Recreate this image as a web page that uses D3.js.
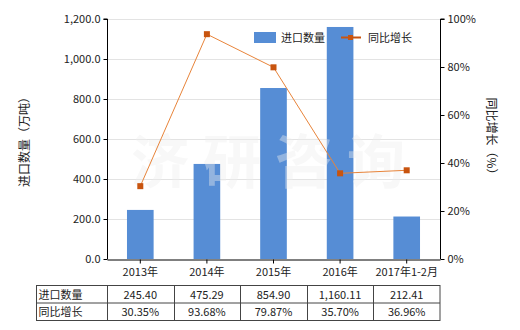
<!DOCTYPE html>
<html>
<head>
<meta charset="utf-8">
<script src="https://cdn.jsdelivr.net/npm/d3@7"></script>
<style>
  body { margin: 0; background: #fff; }
  text { font-family: "Noto Sans CJK SC", "DejaVu Sans", sans-serif; }
</style>
</head>
<body>
<div id="chart"></div>
<script>
// Data
const categories = ["2013年", "2014年", "2015年", "2016年", "2017年1-2月"];
const importQty = [245.40, 475.29, 854.90, 1160.11, 212.41];
const growth = [30.35, 93.68, 79.87, 35.70, 36.96];
const qtyLabels = ["245.40", "475.29", "854.90", "1,160.11", "212.41"];
const growthLabels = ["30.35%", "93.68%", "79.87%", "35.70%", "36.96%"];
const leftTicks = [0, 200, 400, 600, 800, 1000, 1200];
const rightTicks = [0, 20, 40, 60, 80, 100];

// Dimensions
const dimensions = { width: 520, height: 330, left: 107, right: 440, top: 19, bottom: 259 };

const svg = d3.select("#chart").append("svg")
  .attr("width", dimensions.width)
  .attr("height", dimensions.height);

// Scales
const xScale = d3.scaleBand().domain(categories)
  .range([dimensions.left, dimensions.right]).paddingInner(0.6).paddingOuter(0.3);
const xCenter = (c) => xScale(c) + xScale.bandwidth() / 2;
const step = xScale.step();
const yLeft = d3.scaleLinear().domain([0, 1200]).range([dimensions.bottom, dimensions.top]);
const yRight = d3.scaleLinear().domain([0, 100]).range([dimensions.bottom, dimensions.top]);

// Gridlines
svg.append("g").selectAll("line").data(leftTicks.slice(1)).join("line")
  .attr("x1", dimensions.left).attr("x2", dimensions.right)
  .attr("y1", (d) => yLeft(d) + 0.5).attr("y2", (d) => yLeft(d) + 0.5)
  .attr("stroke", "#e3e3e3");

// Bars
svg.append("g").selectAll("rect").data(importQty).join("rect")
  .attr("x", (d, i) => xScale(categories[i]))
  .attr("y", (d) => yLeft(d))
  .attr("width", xScale.bandwidth())
  .attr("height", (d) => yLeft(0) - yLeft(d))
  .attr("fill", "#568dd5");

// Watermark (over bars, lightens them)
svg.append("text").attr("x", 275).attr("y", 183).attr("text-anchor", "middle")
  .attr("font-size", 58).attr("font-weight", "bold").attr("fill", "#eeeeee")
  .attr("opacity", 0.4).attr("letter-spacing", 14).text("济研咨询");

// Line
const line = d3.line().x((d, i) => xCenter(categories[i])).y((d) => yRight(d));
svg.append("path").datum(growth).attr("d", line)
  .attr("fill", "none").attr("stroke", "#e8843a").attr("stroke-width", 1);
svg.append("g").selectAll("rect").data(growth).join("rect")
  .attr("x", (d, i) => xCenter(categories[i]) - 3)
  .attr("y", (d) => yRight(d) - 3)
  .attr("width", 6).attr("height", 6)
  .attr("fill", "#c8540f");

// Axes
const leftAxis = d3.axisLeft(yLeft).tickValues(leftTicks).tickFormat(d3.format(",.1f")).tickSize(4);
const rightAxis = d3.axisRight(yRight).tickValues(rightTicks).tickFormat((d) => d + "%").tickSize(4);
const bottomAxis = d3.axisBottom(xScale).tickSize(4).tickSizeOuter(0);

function styleAxis(g) {
  g.select(".domain").attr("stroke", "#000");
  g.selectAll(".tick line").attr("stroke", "#000");
  g.selectAll("text").attr("font-size", 11).attr("fill", "#222")
    .attr("font-family", "'DejaVu Sans', sans-serif");
}

svg.append("g").attr("transform", `translate(${dimensions.left + 0.5},0)`)
  .call(leftAxis).call(styleAxis).call((g) => g.select(".domain").attr("d", `M-4,${dimensions.top}H0V${dimensions.bottom}`));
svg.append("g").attr("transform", `translate(${dimensions.right + 0.5},0)`)
  .call(rightAxis).call(styleAxis).call((g) => g.select(".domain").attr("d", `M4,${dimensions.top}H0V${dimensions.bottom}`));
svg.append("g").attr("transform", `translate(0,${dimensions.bottom + 0.5})`)
  .call(bottomAxis).call(styleAxis)
  .call((g) => g.selectAll("text").attr("font-family", "'Noto Sans CJK SC', sans-serif").attr("dy", "0.85em"));

// Axis titles
svg.append("text").attr("transform", `translate(29,139) rotate(-90)`)
  .attr("text-anchor", "middle").attr("font-size", 12).attr("fill", "#222")
  .text("进口数量（万吨）");
svg.append("text").attr("transform", `translate(487,139) rotate(90)`)
  .attr("text-anchor", "middle").attr("font-size", 12).attr("fill", "#222")
  .text("同比增长（%）");

// Legend
const legend = svg.append("g").attr("font-size", 11).attr("fill", "#222");
legend.append("rect").attr("x", 254).attr("y", 32).attr("width", 22).attr("height", 11).attr("fill", "#568dd5");
legend.append("text").attr("x", 281).attr("y", 42).text("进口数量");
legend.append("line").attr("x1", 341).attr("x2", 361).attr("y1", 37.5).attr("y2", 37.5)
  .attr("stroke", "#c8540f").attr("stroke-width", 2);
legend.append("rect").attr("x", 348).attr("y", 35).attr("width", 5).attr("height", 5).attr("fill", "#c8540f");
legend.append("text").attr("x", 368).attr("y", 42).text("同比增长");

// Table
const table = svg.append("g");
const tableLeft = 36.5, rowTop = 285.5, rowH = 17.5;
const colLeft = xScale(categories[0]) - (step - xScale.bandwidth()) / 2;
const rows = [["进口数量", qtyLabels], ["同比增长", growthLabels]];
const tableRight = colLeft + step * categories.length;
table.append("rect").attr("x", tableLeft).attr("y", rowTop)
  .attr("width", tableRight - tableLeft).attr("height", rowH * 2)
  .attr("fill", "none").attr("stroke", "#444");
table.append("line").attr("x1", tableLeft).attr("x2", tableRight)
  .attr("y1", rowTop + rowH).attr("y2", rowTop + rowH).attr("stroke", "#444");
categories.forEach((c, i) => {
  table.append("line").attr("x1", Math.round(colLeft + step * i) + 0.5).attr("x2", Math.round(colLeft + step * i) + 0.5)
    .attr("y1", rowTop).attr("y2", rowTop + rowH * 2).attr("stroke", "#444");
});
rows.forEach(([label, vals], r) => {
  const y = rowTop + rowH * r + 13;
  table.append("text").attr("x", tableLeft + 2).attr("y", y).attr("font-size", 11).attr("fill", "#222").text(label);
  table.selectAll(null).data(vals).join("text")
    .attr("x", (d, i) => xCenter(categories[i])).attr("y", y)
    .attr("text-anchor", "middle").attr("font-size", 11).attr("fill", "#222")
    .attr("font-family", "'DejaVu Sans', sans-serif")
    .text((d) => d);
});
</script>
</body>
</html>
